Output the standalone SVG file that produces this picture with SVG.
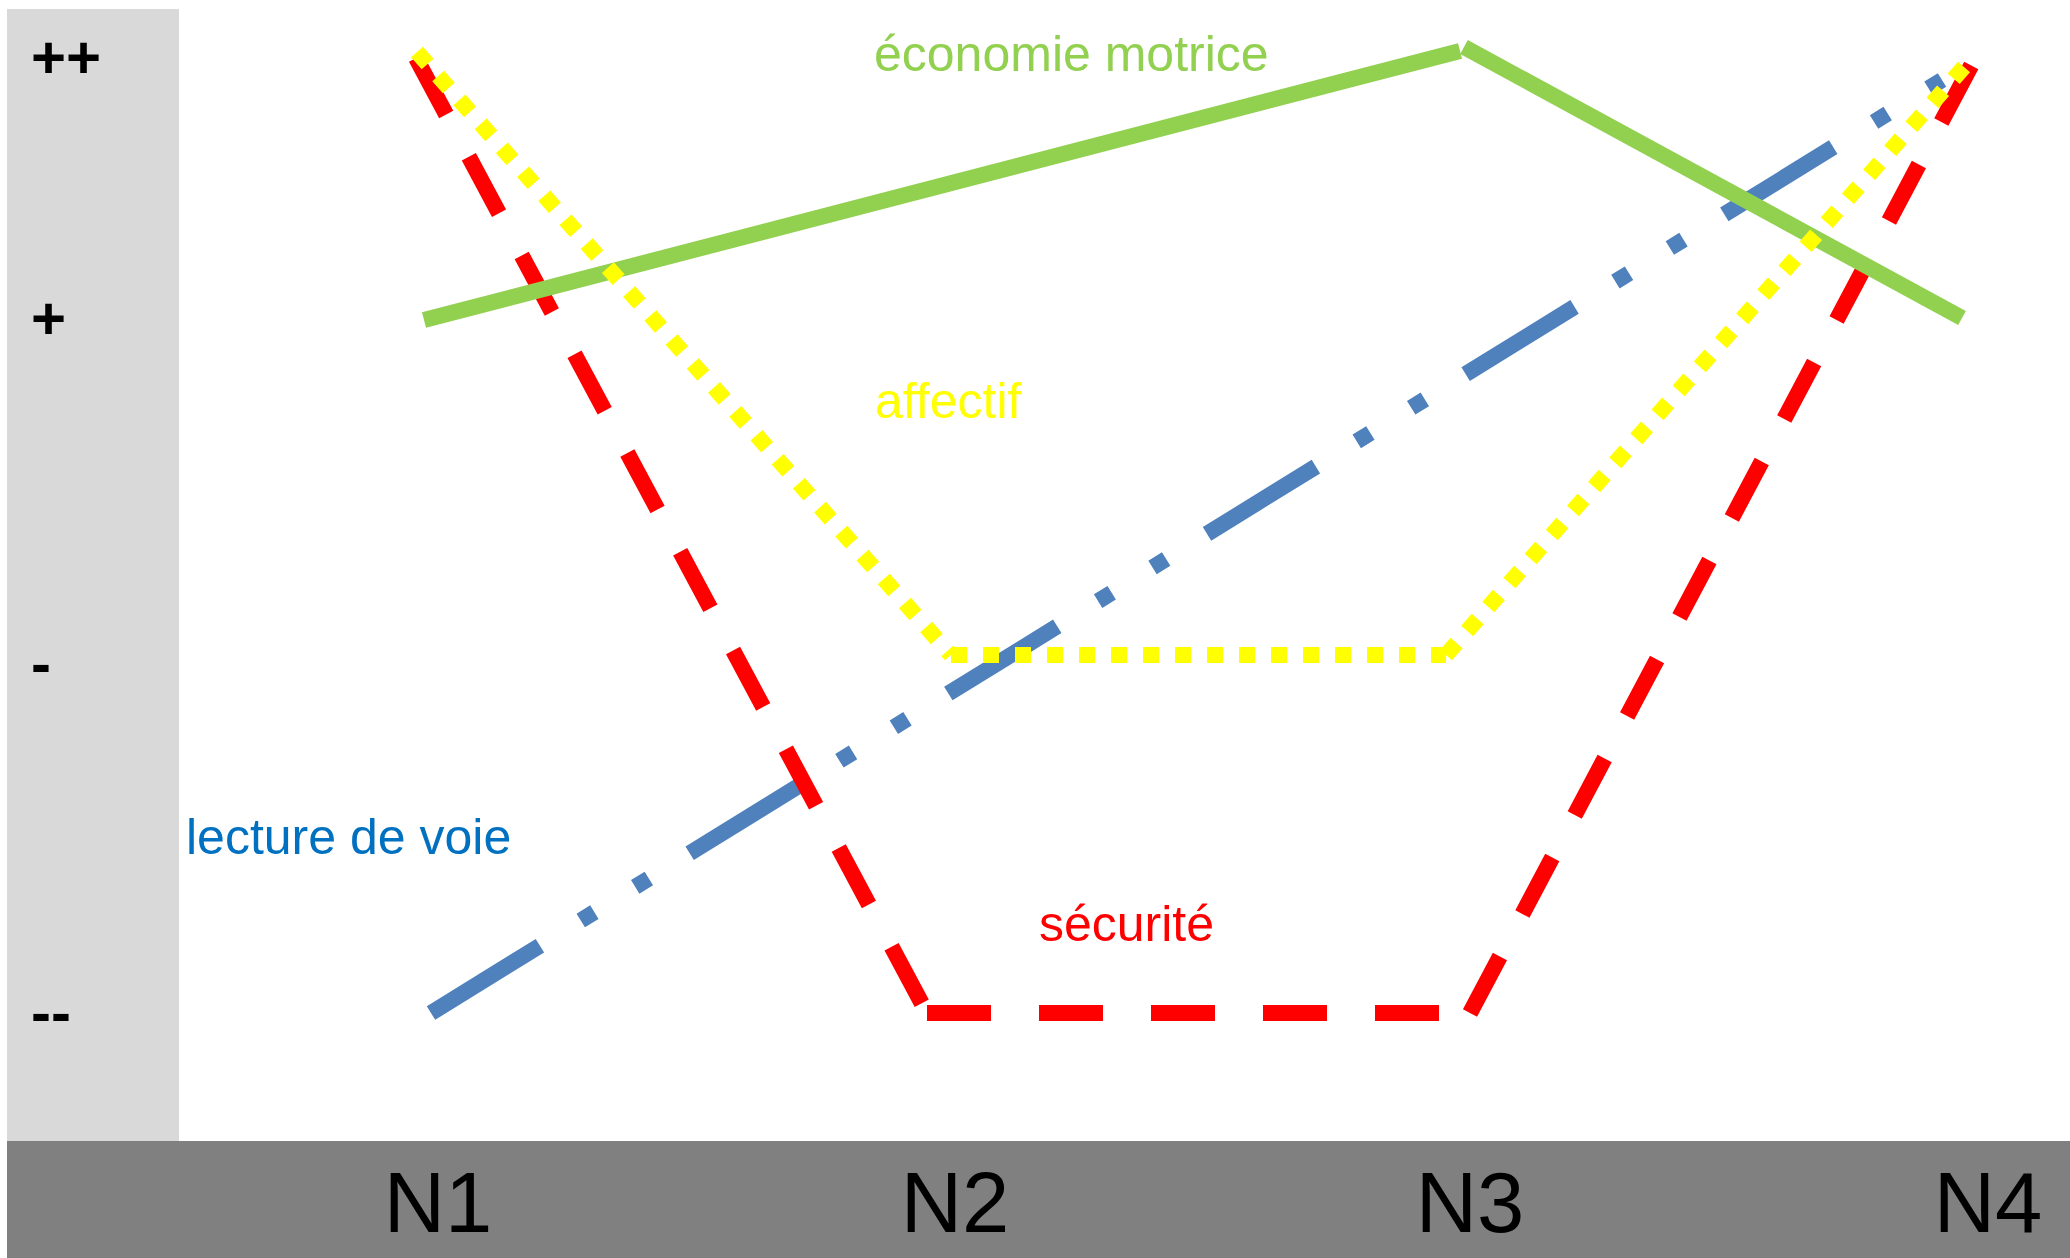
<svg xmlns="http://www.w3.org/2000/svg" width="2070" height="1258" viewBox="0 0 2070 1258">
<style>
.lbl{font-family:"Liberation Sans",Arial,sans-serif;font-size:50px}
.ylab{font-family:"Liberation Sans",Arial,sans-serif;font-size:60px;font-weight:bold;fill:#000}
.xlab{font-family:"Liberation Sans",Arial,sans-serif;font-size:85px;fill:#000;text-anchor:middle}
.s{fill:none;stroke-width:16;stroke-linecap:butt;stroke-linejoin:miter}
.blue{stroke:#4f81bd;stroke-dasharray:128 48 16 48 16 48}
.red{stroke:#ff0000;stroke-dasharray:64 48}
.green{stroke:#92d050}
.yellow{stroke:#ffff00;stroke-dasharray:16 16}
</style>
<rect width="2070" height="1258" fill="#ffffff"/>
<g id="y-axis">
<rect x="7" y="9" width="172" height="1132" fill="#d9d9d9"/>
<text class="ylab" x="31" y="78">++</text>
<text class="ylab" x="31" y="339">+</text>
<text class="ylab" x="31" y="684">-</text>
<text class="ylab" x="31" y="1033">--</text>
</g>
<g id="x-axis">
<rect x="7" y="1141" width="2063" height="117" fill="#808080"/>
<text class="xlab" x="438" y="1232">N1</text>
<text class="xlab" x="955" y="1232">N2</text>
<text class="xlab" x="1470" y="1232">N3</text>
<text class="xlab" x="1988" y="1232">N4</text>
</g>
<g id="connectors">
<g id="lecture-de-voie-line">
<line class="s blue" x1="431" y1="1013" x2="1942" y2="80"/>
</g>
<g id="securite-line">
<line class="s red" x1="416" y1="58" x2="927" y2="1013"/>
<line class="s red" x1="927" y1="1013" x2="1470" y2="1013"/>
<line class="s red" x1="1470" y1="1013" x2="1972" y2="64"/>
</g>
<g id="economie-motrice-line">
<line class="s green" x1="424" y1="320" x2="1460" y2="51"/>
<line class="s green" x1="1464" y1="47" x2="1962" y2="318"/>
</g>
<g id="affectif-line">
<line class="s yellow" x1="417" y1="52" x2="951" y2="655"/>
<line class="s yellow" x1="951" y1="655" x2="1446" y2="655"/>
<line class="s yellow" x1="1446" y1="655" x2="1964" y2="67"/>
</g>
</g>
<g id="economie-motrice"><text class="lbl" x="874" y="71" fill="#92d050">économie motrice</text></g>
<g id="affectif"><text class="lbl" x="875" y="418" fill="#ffff00">affectif</text></g>
<g id="lecture-de-voie"><text class="lbl" x="186" y="854" fill="#0070c0">lecture de voie</text></g>
<g id="securite"><text class="lbl" x="1039" y="941" fill="#ff0000">sécurité</text></g>
</svg>
